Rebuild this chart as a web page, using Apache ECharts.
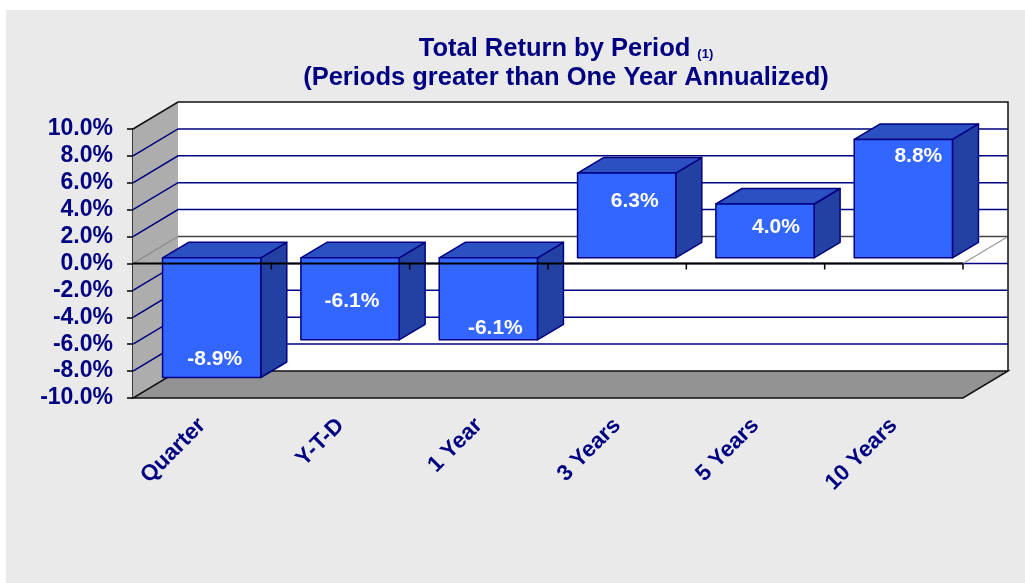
<!DOCTYPE html>
<html>
<head>
<meta charset="utf-8">
<title>Total Return by Period</title>
<script src="https://cdn.jsdelivr.net/npm/echarts@6/dist/echarts.min.js"></script>
<style>
    html, body { margin: 0; padding: 0; background: #ffffff; }
    .panel { position: absolute; left: 6px; top: 10px; width: 1019px; height: 573px; background: #eaeaea; }
    #main { position: absolute; left: 0; top: 0; width: 1025px; height: 583px; }
</style>
</head>
<body>
<div class="panel"></div>
<div id="main"></div>
<script>
// 数据
var categories = ["Quarter", "Y-T-D", "1 Year", "3 Years", "5 Years", "10 Years"];
var returns = [-8.9, -6.1, -6.1, 6.3, 4.0, 8.8];
var yMin = -10, yMax = 10, yStep = 2;

// label placement inside each bar (layout only): fraction from the zero end, px nudge right
var labelFrac = [0.85, 0.53, 0.86, 0.67, 0.56, 0.86];
var labelNudge = [3, 2, 7, 8, 11, 15];

(function () {
    var FONT = "'Liberation Sans', Arial, sans-serif";
    var NAVY = "#000080";
    // 3d 深度
    var DX = 45, DY = -27;          // wall depth
    var BDX = 26, BDY = -15.5;      // bar depth
    var OX = 9.5, OY = -5.7;        // bar front offset from front plane
    var BAR_RATIO = 0.71;

    var myChart = echarts.init(document.getElementById("main"));

    // walls, floor and gridlines
    function renderFrame(params, api) {
        var catW = api.size([1, 0])[0];
        var xL = api.coord([0, 0])[0] - catW / 2;
        var xR = api.coord([categories.length - 1, 0])[0] + catW / 2;
        var yTop = api.coord([0, yMax])[1];
        var yBot = api.coord([0, yMin])[1];
        var y0 = api.coord([0, 0])[1];
        var kids = [];
        kids.push({ type: "polygon", shape: { points: [[xL, yTop], [xL + DX, yTop + DY], [xL + DX, yBot + DY], [xL, yBot]] },
            style: { fill: "#adadad" } });
        kids.push({ type: "rect", shape: { x: xL + DX, y: yTop + DY, width: xR - xL, height: yBot - yTop },
            style: { fill: "#ffffff" } });
        for (var v = yMin + yStep; v < yMax; v += yStep) {
            if (v === 0) continue;
            var y = api.coord([0, v])[1];
            kids.push({ type: "polyline", shape: { points: [[xL, y], [xL + DX, y + DY], [xR + DX, y + DY]] },
                style: { stroke: NAVY, lineWidth: 1.5, fill: null } });
        }
        // zero plane
        kids.push({ type: "line", shape: { x1: xL, y1: y0, x2: xL + DX, y2: y0 + DY }, style: { stroke: "#8a8a8a", lineWidth: 1.2 } });
        kids.push({ type: "line", shape: { x1: xL + DX, y1: y0 + DY, x2: xR + DX, y2: y0 + DY }, style: { stroke: "#444444", lineWidth: 1.6 } });
        kids.push({ type: "line", shape: { x1: xR, y1: y0, x2: xR + DX, y2: y0 + DY }, style: { stroke: "#9a9a9a", lineWidth: 1.2 } });
        // floor
        kids.push({ type: "polygon", shape: { points: [[xL, yBot], [xR, yBot], [xR + DX, yBot + DY], [xL + DX, yBot + DY]] },
            style: { fill: "#939393", stroke: "#111111", lineWidth: 1.5 } });
        // outer border
        kids.push({ type: "polyline", shape: { points: [[xL, yTop], [xL + DX, yTop + DY], [xR + DX, yTop + DY], [xR + DX, yBot + DY]] },
            style: { stroke: "#111111", lineWidth: 1.5, fill: null } });
        return { type: "group", children: kids };
    }

    // 3d 柱子
    function renderBar(params, api) {
        var i = api.value(0);
        var val = api.value(1);
        var catW = api.size([1, 0])[0];
        var bw = catW * BAR_RATIO;
        var cx = api.coord([i, 0])[0];
        var x0 = cx - bw / 2 + OX;
        var yz = api.coord([i, 0])[1] + OY;
        var yv = api.coord([i, val])[1] + OY;
        var yT = Math.min(yz, yv), yB = Math.max(yz, yv);
        var edge = { stroke: NAVY, lineWidth: 1.5, lineJoin: "round" };
        var ly = yz + (yv - yz) * labelFrac[params.dataIndex];
        return {
            type: "group",
            children: [
                { type: "polygon", shape: { points: [[x0 + bw, yT], [x0 + bw + BDX, yT + BDY], [x0 + bw + BDX, yB + BDY], [x0 + bw, yB]] },
                    style: echarts.util.extend({ fill: "#2341a3" }, edge) },
                { type: "polygon", shape: { points: [[x0, yT], [x0 + BDX, yT + BDY], [x0 + bw + BDX, yT + BDY], [x0 + bw, yT]] },
                    style: echarts.util.extend({ fill: "#2a50c2" }, edge) },
                { type: "rect", shape: { x: x0, y: yT, width: bw, height: yB - yT },
                    style: echarts.util.extend({ fill: "#3366ff" }, edge) },
                { type: "text", style: { text: val.toFixed(1) + "%", x: x0 + bw / 2 + labelNudge[params.dataIndex], y: ly,
                    fill: "#ffffff", font: "bold 21px " + FONT, align: "center", verticalAlign: "middle" } }
            ]
        };
    }

    // front zero axis with ticks (drawn over the bars)
    function renderZero(params, api) {
        var catW = api.size([1, 0])[0];
        var xL = api.coord([0, 0])[0] - catW / 2;
        var y0 = api.coord([0, 0])[1];
        var kids = [{ type: "line", shape: { x1: xL, y1: y0, x2: xL + catW * categories.length, y2: y0 },
            style: { stroke: "#000000", lineWidth: 2 } }];
        for (var k = 1; k <= categories.length; k++) {
            kids.push({ type: "line", shape: { x1: xL + catW * k, y1: y0, x2: xL + catW * k, y2: y0 + 6 },
                style: { stroke: "#000000", lineWidth: 1.5 } });
        }
        return { type: "group", children: kids };
    }

    var option = {
        animation: false,
        title: {
            text: "{t|Total Return by Period }{s|(1)}\n{t|(Periods greater than One Year Annualized)}",
            left: 561,
            top: 29,
            textAlign: "center",
            textStyle: {
                rich: {
                    t: { fontFamily: FONT, fontSize: 25.5, fontWeight: "bold", color: NAVY, lineHeight: 29 },
                    s: { fontFamily: FONT, fontSize: 13, fontWeight: "bold", color: NAVY, lineHeight: 29, verticalAlign: "bottom", padding: [0, 0, 2, 0] }
                }
            }
        },
        grid: { left: 133, right: 62, top: 129, bottom: 185 },
        xAxis: {
            type: "category",
            data: categories,
            axisLine: { show: false },
            axisTick: { show: false },
            axisLabel: { rotate: 45, margin: 24, color: NAVY, fontSize: 22.5, fontWeight: "bold", fontFamily: FONT }
        },
        yAxis: {
            type: "value",
            min: yMin,
            max: yMax,
            interval: yStep,
            axisLine: { show: true, lineStyle: { color: "#000000", width: 1.5 } },
            axisTick: { show: true, length: 6, lineStyle: { color: "#000000", width: 1.5 } },
            splitLine: { show: false },
            axisLabel: {
                margin: 20, color: NAVY, fontSize: 23, fontWeight: "bold", fontFamily: FONT,
                formatter: function (v) { return v.toFixed(1) + "%"; }
            }
        },
        series: [
            { type: "custom", name: "frame", z: 1, silent: true, renderItem: renderFrame, data: [[0, 0]], encode: { x: 0, y: 1 } },
            { type: "custom", name: "returns", z: 2, renderItem: renderBar,
              data: returns.map(function (v, i) { return [i, v]; }), encode: { x: 0, y: 1 } },
            { type: "custom", name: "zero", z: 3, silent: true, renderItem: renderZero, data: [[0, 0]], encode: { x: 0, y: 1 } }
        ]
    };
    myChart.setOption(option);
    window.addEventListener("resize", function () {
        myChart.resize();
    });
})();
</script>
</body>
</html>
